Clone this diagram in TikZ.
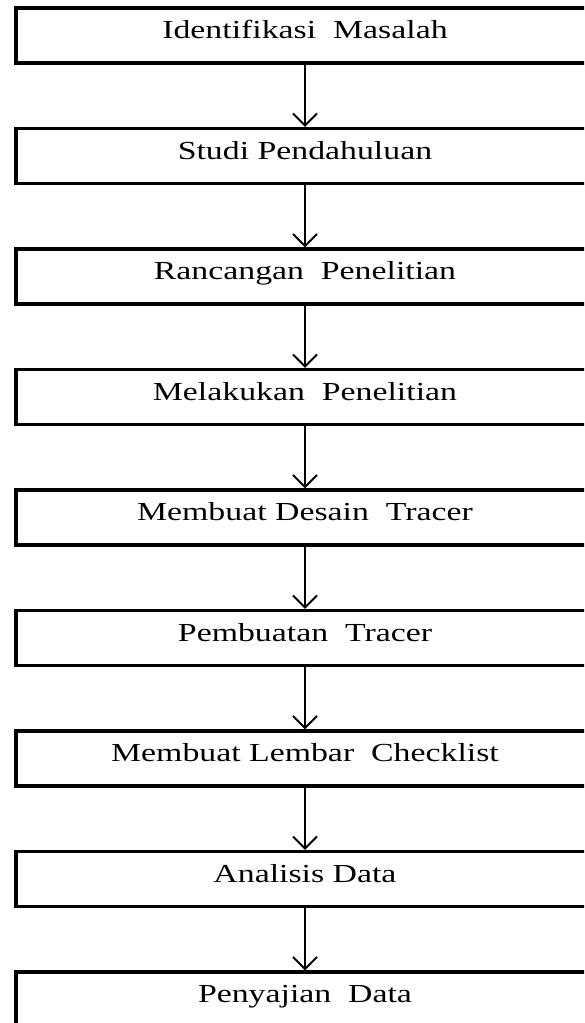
\documentclass[tikz,border=0pt]{standalone}
\usepackage{fontspec}
\setmainfont{Liberation Serif}[FakeStretch=1.3]
\usetikzlibrary{arrows.meta,positioning}
\tikzset{
stage/.style = {draw, fill=white, rectangle, line width=1.6pt, minimum width=289pt, minimum height=27.5pt, text depth=6pt, align=center, font=\fontsize{13}{15}\selectfont},
flow/.style = {line width=1pt, -{Straight Barb[length=6pt,width=12pt]}}
}
\begin{document}
\begin{tikzpicture}[node distance=60.25pt]
    \useasboundingbox (0,0) rectangle (292pt,-511.5pt);
    \clip (0,0) rectangle (292pt,-511.5pt);

    \node[stage] (s1) at (152.5pt,-17.75pt) {Identifikasi\ \ Masalah};
    \node[stage, below of = s1] (s2) {Studi Pendahuluan};
    \node[stage, below of = s2] (s3) {Rancangan\ \ Penelitian};
    \node[stage, below of = s3] (s4) {Melakukan\ \ Penelitian};
    \node[stage, below of = s4] (s5) {Membuat Desain\ \ Tracer};
    \node[stage, below of = s5] (s6) {Pembuatan\ \ Tracer};
    \node[stage, below of = s6] (s7) {Membuat Lembar\ \ Checklist};
    \node[stage, below of = s7] (s8) {Analisis Data};
    \node[stage, below of = s8] (s9) {Penyajian\ \ Data};

    \draw[flow] (s1) -- (s2);
    \draw[flow] (s2) -- (s3);
    \draw[flow] (s3) -- (s4);
    \draw[flow] (s4) -- (s5);
    \draw[flow] (s5) -- (s6);
    \draw[flow] (s6) -- (s7);
    \draw[flow] (s7) -- (s8);
    \draw[flow] (s8) -- (s9);
\end{tikzpicture}
\end{document}
